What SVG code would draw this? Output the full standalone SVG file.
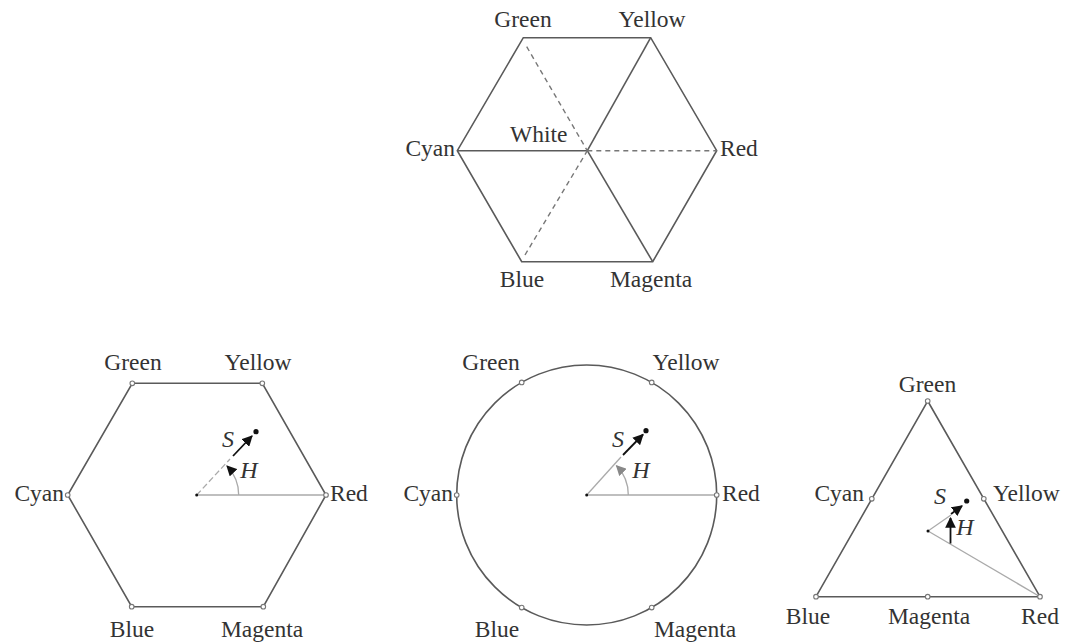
<svg xmlns="http://www.w3.org/2000/svg" width="1068" height="643" viewBox="0 0 1068 643">
<style>
text{font-family:"Liberation Serif","Times New Roman",serif;font-size:23.5px;fill:#333}
.it{font-style:italic;font-size:24px}
.edge{fill:none;stroke:#5a5a5a;stroke-width:1.6}
.dash{fill:none;stroke:#777;stroke-width:1.4;stroke-dasharray:5 4}
.ray{fill:none;stroke:#aaa;stroke-width:1.3}
.vtx{fill:#fff;stroke:#777;stroke-width:1.1}
.sarrow{stroke:#111;stroke-width:1.8;fill:none}
.dot{fill:#111}
</style>
<defs>
<marker id="ah" viewBox="0 0 10 10" refX="9" refY="5" markerWidth="6" markerHeight="6" orient="auto" markerUnits="strokeWidth">
<path d="M0,0 L10,5 L0,10 z" fill="#111"/>
</marker>
<marker id="ahg" viewBox="0 0 10 10" refX="9" refY="5" markerWidth="8" markerHeight="8" orient="auto" markerUnits="strokeWidth">
<path d="M0,0 L10,5 L0,10 z" fill="#888"/>
</marker>
<marker id="ahb" viewBox="0 0 10 10" refX="9" refY="5" markerWidth="8" markerHeight="8" orient="auto" markerUnits="strokeWidth">
<path d="M0,0 L10,5 L0,10 z" fill="#111"/>
</marker>
</defs>

<g id="top-hexagon">
<polygon class="edge" points="523.3,37.7 650.7,37.7 716.7,150.7 652.7,261.7 521.7,261.7 457.3,150.7"/>
<line class="edge" x1="457.3" y1="150.7" x2="587.3" y2="150.7"/>
<line class="edge" x1="650.7" y1="37.7" x2="587.3" y2="150.7"/>
<line class="edge" x1="652.7" y1="261.7" x2="587.3" y2="150.7"/>
<line class="dash" x1="526.7" y1="46.7" x2="587.3" y2="150.7"/>
<line class="dash" x1="525" y1="255" x2="587.3" y2="150.7"/>
<line class="dash" x1="587.3" y1="150.7" x2="716.7" y2="150.7"/>
<text x="523" y="27" text-anchor="middle">Green</text>
<text x="652" y="27" text-anchor="middle">Yellow</text>
<text x="455" y="156" text-anchor="end">Cyan</text>
<text x="720" y="156">Red</text>
<text x="510" y="142">White</text>
<text x="522" y="287" text-anchor="middle">Blue</text>
<text x="651" y="287" text-anchor="middle">Magenta</text>
</g>

<g id="hexagon-hsi">
<polygon class="edge" points="132.3,383.3 262.3,383.3 326,495 263.3,606.7 131.7,606.7 67.7,495"/>
<text x="133" y="370" text-anchor="middle">Green</text>
<text x="258" y="370" text-anchor="middle">Yellow</text>
<text x="64" y="501" text-anchor="end">Cyan</text>
<text x="330" y="501">Red</text>
<text x="132" y="637" text-anchor="middle">Blue</text>
<text x="262" y="637" text-anchor="middle">Magenta</text>
</g>

<g id="circle-hsi">
<circle class="edge" cx="586.7" cy="495" r="130"/>
<text x="491" y="370" text-anchor="middle">Green</text>
<text x="686" y="370" text-anchor="middle">Yellow</text>
<text x="453" y="501" text-anchor="end">Cyan</text>
<text x="722" y="501">Red</text>
<text x="497" y="637" text-anchor="middle">Blue</text>
<text x="695" y="637" text-anchor="middle">Magenta</text>
</g>

<g id="triangle-hsi">
<polygon class="edge" points="927.7,401 1040,596.7 816,596.7"/>
<text x="927.5" y="392" text-anchor="middle">Green</text>
<text x="864" y="501" text-anchor="end">Cyan</text>
<text x="993" y="501">Yellow</text>
<text x="808" y="624" text-anchor="middle">Blue</text>
<text x="929" y="624" text-anchor="middle">Magenta</text>
<text x="1040" y="624" text-anchor="middle">Red</text>
</g>

<g id="connectors">
<!-- hexagon -->
<line class="ray" x1="196.7" y1="495" x2="326" y2="495"/>
<line class="ray" x1="196.7" y1="495" x2="230" y2="459" stroke-dasharray="6 3"/>
<line class="sarrow" x1="233" y1="456" x2="252" y2="436" marker-end="url(#ah)"/>
<circle class="dot" cx="256" cy="431.7" r="2.6"/>
<path class="ray" d="M238.7,495 A42,42 0 0 0 227,466" marker-end="url(#ahb)"/>
<text class="it" x="228" y="447" text-anchor="middle">S</text>
<text class="it" x="249" y="478" text-anchor="middle">H</text>
<circle class="dot" cx="196.7" cy="495" r="1.5" fill="#777"/>
<!-- circle -->
<line class="ray" x1="586.7" y1="495" x2="716.7" y2="495"/>
<line class="ray" x1="586.7" y1="495" x2="621" y2="457"/>
<line class="sarrow" x1="623" y1="455" x2="643" y2="434.5" marker-end="url(#ah)"/>
<circle class="dot" cx="646" cy="430.7" r="2.6"/>
<path class="ray" d="M628.3,495 A41.6,41.6 0 0 0 616.5,465.8" marker-end="url(#ahg)"/>
<text class="it" x="618" y="447" text-anchor="middle">S</text>
<text class="it" x="641" y="478" text-anchor="middle">H</text>
<circle class="dot" cx="586.7" cy="495" r="1.5" fill="#777"/>
<!-- triangle -->
<line class="ray" x1="928" y1="531" x2="1040" y2="596.7"/>
<line class="ray" x1="928" y1="531" x2="951" y2="515"/>
<line class="sarrow" x1="951" y1="514" x2="962" y2="506" marker-end="url(#ah)"/>
<circle class="dot" cx="966.7" cy="501" r="2.6"/>
<line class="sarrow" x1="950.5" y1="543.5" x2="950.5" y2="518" stroke-width="1.5" marker-end="url(#ah)"/>
<text class="it" x="940" y="504" text-anchor="middle">S</text>
<text class="it" x="965" y="535" text-anchor="middle">H</text>
<circle class="dot" cx="928" cy="531" r="1.5" fill="#777"/>
<!-- vertex markers -->
<circle class="vtx" cx="132.3" cy="383.3" r="2.3"/>
<circle class="vtx" cx="262.3" cy="383.3" r="2.3"/>
<circle class="vtx" cx="326" cy="495" r="2.3"/>
<circle class="vtx" cx="263.3" cy="606.7" r="2.3"/>
<circle class="vtx" cx="131.7" cy="606.7" r="2.3"/>
<circle class="vtx" cx="67.7" cy="495" r="2.3"/>
<circle class="vtx" cx="521.7" cy="382.4" r="2.3"/>
<circle class="vtx" cx="651.7" cy="382.4" r="2.3"/>
<circle class="vtx" cx="716.7" cy="495" r="2.3"/>
<circle class="vtx" cx="651.7" cy="607.6" r="2.3"/>
<circle class="vtx" cx="521.7" cy="607.6" r="2.3"/>
<circle class="vtx" cx="456.7" cy="495" r="2.3"/>
<circle class="vtx" cx="927.7" cy="401" r="2.3"/>
<circle class="vtx" cx="871.8" cy="498.8" r="2.3"/>
<circle class="vtx" cx="983.8" cy="498.8" r="2.3"/>
<circle class="vtx" cx="927.7" cy="596.7" r="2.3"/>
<circle class="vtx" cx="816" cy="596.7" r="2.3"/>
<circle class="vtx" cx="1040" cy="596.7" r="2.3"/>
</g>
</svg>
